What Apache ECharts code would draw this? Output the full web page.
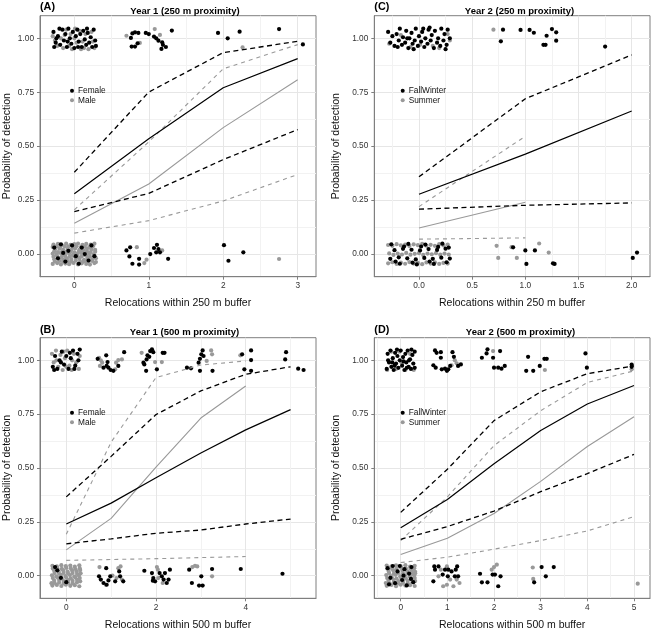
<!DOCTYPE html>
<html><head><meta charset="utf-8">
<script src="https://cdn.jsdelivr.net/npm/echarts@6/dist/echarts.min.js"></script>
<style>html,body{margin:0;padding:0;background:#fff}#c{width:651px;height:629px}</style>
</head><body><div id="c"></div>
<script>
// ---------- tick values ----------
const Y_TICKS = [0, 0.25, 0.5, 0.75, 1];
const Y_MINOR = [0.125, 0.375, 0.625, 0.875];
const A_xTicks = [0, 1, 2, 3];
const A_xMinor = [0.5, 1.5, 2.5];
const B_xTicks = [0, 2, 4];
const B_xMinor = [1, 3, 5];
const C_xTicks = [0, 0.5, 1, 1.5, 2];
const C_xMinor = [-0.25, 0.25, 0.75, 1.25, 1.75];
const D_xTicks = [0, 1, 2, 3, 4, 5];
const D_xMinor = [-0.5, 0.5, 1.5, 2.5, 3.5, 4.5];

// ---------- fitted curves (prob. of detection) ----------
// Panel A: Year 1, 250 m
const A_female_x = [0, 1, 2, 3];
const A_female_fit = [0.280, 0.535, 0.771, 0.906];
const A_female_hi = [0.379, 0.751, 0.934, 0.986];
const A_female_lo = [0.197, 0.281, 0.438, 0.577];
const A_male_x = [0, 1, 2, 3];
const A_male_fit = [0.143, 0.325, 0.586, 0.808];
const A_male_hi = [0.205, 0.520, 0.859, 0.971];
const A_male_lo = [0.097, 0.155, 0.246, 0.369];
// Panel B: Year 1, 500 m
const B_female_x = [0, 1, 2, 3, 4, 5];
const B_female_fit = [0.240, 0.337, 0.455, 0.570, 0.677, 0.771];
const B_female_hi = [0.366, 0.554, 0.748, 0.858, 0.935, 0.970];
const B_female_lo = [0.148, 0.171, 0.197, 0.212, 0.240, 0.263];
const B_male_x = [0, 1, 2, 3, 4];
const B_male_fit = [0.120, 0.266, 0.504, 0.732, 0.881];
const B_male_hi = [0.192, 0.620, 0.920, 0.978, 0.997];
const B_male_lo = [0.071, 0.075, 0.079, 0.084, 0.089];
// Panel C: Year 2, 250 m
const C_fw_x = [0, 1, 2];
const C_fw_fit = [0.277, 0.463, 0.663];
const C_fw_hi = [0.358, 0.720, 0.923];
const C_fw_lo = [0.208, 0.226, 0.237];
const C_su_x = [0, 1];
const C_su_fit = [0.121, 0.240];
const C_su_hi = [0.220, 0.546];
const C_su_lo = [0.069, 0.075];
// Panel D: Year 2, 500 m
const D_fw_x = [0, 1, 2, 3, 4, 5];
const D_fw_fit = [0.223, 0.354, 0.520, 0.674, 0.797, 0.883];
const D_fw_hi = [0.294, 0.494, 0.720, 0.854, 0.938, 0.974];
const D_fw_lo = [0.169, 0.228, 0.300, 0.390, 0.474, 0.563];
const D_su_x = [0, 1, 2, 3, 4, 5];
const D_su_fit = [0.098, 0.174, 0.289, 0.438, 0.600, 0.738];
const D_su_hi = [0.163, 0.366, 0.604, 0.766, 0.897, 0.951];
const D_su_lo = [0.061, 0.086, 0.123, 0.163, 0.208, 0.274];

// ---------- jittered observations [relocations, detected] ----------
const A_female_pts = [
[-0.28,1.03],[-0.25,0.98],[-0.22,1.01],[-0.27,0.96],[-0.19,0.97],[-0.16,1.04],[-0.14,0.99],[-0.12,1.02],[-0.10,0.96],[-0.08,1.045],[-0.06,1.0],[-0.04,0.975],[-0.02,1.03],[0.00,0.955],[0.02,1.01],[0.04,1.04],[0.06,0.985],[0.08,1.02],[0.10,0.96],[0.12,1.035],[0.14,0.995],[0.16,0.97],[0.18,1.025],[0.20,0.98],[0.22,1.005],[0.24,0.96],[0.26,1.04],[0.28,0.99],[0.29,0.965],[-0.20,1.045],[-0.09,0.985],[0.05,0.96],[0.17,1.045],[-0.24,1.0],
[0.78,1.023],[0.815,1.028],[0.86,1.025],[0.76,1.002],[0.77,0.962],[0.815,0.962],[0.85,0.977],[0.96,1.025],[1.0,1.02],[1.07,1.008],[1.1,1.0],[1.13,0.989],[1.18,0.982],[1.19,0.97],[1.23,0.96],[1.17,0.951],[1.31,1.036],
[1.93,1.025],[2.06,1.0],[2.22,1.031],[2.75,1.043],[3.07,0.972],
[-0.27,0.03],[-0.22,-0.02],[-0.18,0.045],[-0.12,-0.035],[-0.08,0.015],[-0.03,0.04],[0.02,-0.01],[0.06,-0.045],[0.1,0.03],[0.14,0.0],[0.19,-0.03],[0.23,0.04],[0.27,-0.01],[-0.15,0.005],
[0.70,0.017],[0.75,0.031],[0.74,-0.011],[0.78,-0.045],[0.87,-0.022],[0.87,-0.049],[1.02,0.0],[1.07,0.028],[1.11,0.043],[1.13,0.023],[1.10,0.008],[1.15,0.008],[1.26,-0.022],[2.01,0.041],[2.07,-0.031],[2.27,0.008]
];
const A_male_pts = [
[-0.29,1.01],[-0.26,0.99],[-0.23,0.965],[-0.18,1.0],[-0.15,0.955],[-0.11,1.04],[-0.07,0.965],[-0.05,1.02],[-0.03,0.95],[0.01,1.045],[0.03,0.98],[0.07,1.035],[0.09,0.95],[0.11,0.985],[0.13,0.955],[0.15,1.02],[0.19,0.95],[0.23,1.03],[0.25,0.985],[0.27,0.955],[0.0,1.0],[-0.13,1.015],
[0.70,1.012],[0.88,0.979],[1.08,1.043],[1.15,1.016],[2.26,0.958],
[-0.29,-0.046],[-0.23,-0.042],[-0.18,-0.048],[-0.12,-0.044],[-0.07,-0.047],[-0.01,-0.041],[0.05,-0.048],[0.10,-0.043],[0.16,-0.046],[0.21,-0.049],[0.27,-0.042],
[-0.26,-0.034],[-0.2,-0.032],[-0.15,-0.036],[-0.09,-0.033],[-0.04,-0.035],[0.02,-0.031],[0.08,-0.036],[0.13,-0.033],[0.19,-0.035],[0.24,-0.032],[0.29,-0.037],
[-0.27,-0.024],[-0.21,-0.019],[-0.15,-0.026],[-0.10,-0.021],[-0.04,-0.025],[0.02,-0.018],[0.07,-0.023],[0.13,-0.027],[0.18,-0.02],[0.24,-0.024],[0.29,-0.019],
[-0.28,-0.012],[-0.23,-0.009],[-0.17,-0.013],[-0.12,-0.01],[-0.06,-0.012],[-0.01,-0.009],[0.05,-0.013],[0.1,-0.011],[0.16,-0.008],[0.21,-0.012],[0.27,-0.01],
[-0.29,0.002],[-0.24,-0.003],[-0.18,0.004],[-0.13,-0.002],[-0.07,0.003],[-0.02,-0.004],[0.04,0.001],[0.09,0.005],[0.15,-0.003],[0.20,0.002],[0.26,-0.001],
[-0.27,0.012],[-0.22,0.009],[-0.16,0.013],[-0.11,0.01],[-0.05,0.012],[0.0,0.008],[0.06,0.013],[0.11,0.01],[0.17,0.012],[0.22,0.009],[0.28,0.011],
[-0.26,0.021],[-0.20,0.025],[-0.15,0.019],[-0.09,0.024],[-0.04,0.02],[0.01,0.026],[0.07,0.021],[0.12,0.018],[0.17,0.024],[0.23,0.022],[0.28,0.019],
[-0.29,0.033],[-0.24,0.035],[-0.19,0.032],[-0.13,0.036],[-0.08,0.034],[-0.02,0.031],[0.03,0.036],[0.09,0.033],[0.14,0.035],[0.2,0.032],[0.25,0.036],
[-0.28,0.044],[-0.22,0.047],[-0.17,0.042],[-0.11,0.048],[-0.05,0.043],[0.00,0.046],[0.05,0.049],[0.11,0.043],[0.16,0.047],[0.22,0.044],[0.27,0.048],
[0.84,0.032],[0.94,-0.042],[0.97,-0.026],[1.18,0.017],[2.75,-0.023]
];
const B_female_pts = [
[-0.3,0.97],[-0.25,1.02],[-0.2,0.96],[-0.15,1.0],[-0.1,1.04],[-0.05,0.98],[0.0,1.02],[0.05,0.96],[0.1,1.01],[0.15,1.045],[0.2,0.975],[0.25,1.03],[0.3,1.05],[-0.27,0.955],[0.08,1.035],[0.18,0.96],[0.27,1.0],[-0.12,0.99],
[0.70,1.007],[0.89,1.023],[0.92,0.992],[0.90,0.974],[0.94,0.966],[0.99,0.955],[1.05,0.951],[1.16,0.974],[1.29,1.038],[0.83,0.966],
[1.72,0.989],[1.74,0.981],[1.79,1.004],[1.81,1.023],[1.85,1.016],[1.87,1.043],[1.91,1.051],[1.94,1.038],[2.02,0.958],[2.15,1.035],[2.19,1.035],[1.78,0.951],
[2.69,0.966],[2.78,0.963],[2.95,0.989],[2.98,1.007],[3.01,1.028],[3.04,1.046],[3.06,1.02],[2.98,0.951],[3.26,0.951],
[3.92,1.028],[3.97,0.958],[4.12,1.046],[4.12,1.001],[4.12,0.951],
[4.90,1.038],[4.88,1.004],[5.17,0.961],[5.29,0.955],
[-0.2,0.025],[-0.12,-0.01],[0.0,-0.03],[-0.25,0.04],
[0.89,0.035],[0.73,-0.003],[0.77,-0.018],[0.83,-0.034],[0.94,-0.022],[0.98,-0.003],[1.09,-0.026],[1.18,0.020],[1.20,-0.003],[1.27,-0.026],[0.90,-0.042],
[1.74,0.023],[1.91,0.012],[1.94,-0.011],[1.93,-0.023],[2.08,0.012],[2.13,-0.003],[2.17,-0.018],[2.20,0.012],[2.24,-0.034],[2.28,-0.018],[2.31,0.028],[1.98,-0.026],
[2.74,0.028],[2.80,-0.034],[2.96,-0.046],[3.04,-0.046],[3.01,-0.003],[3.25,0.031],[3.89,0.031],[4.82,0.009]
];
const B_male_pts = [
[-0.32,1.03],[-0.28,0.99],[-0.23,1.045],[-0.18,0.97],[-0.13,1.025],[-0.08,0.955],[-0.03,1.01],[0.02,1.045],[0.07,0.975],[0.12,0.955],[0.17,1.03],[0.22,0.99],[0.28,0.96],[-0.22,1.0],[0.0,0.97],[0.13,1.0],[-0.06,1.04],[0.3,1.02],
[0.73,1.012],[0.77,1.0],[0.80,0.989],[1.09,0.958],[1.11,0.989],[1.16,1.001],[1.24,1.004],[0.75,0.974],
[1.68,1.035],[1.98,0.992],[2.13,0.992],[3.13,0.997],[3.23,1.046],[3.25,1.028],[3.88,1.023],
[-0.31,-0.046],[-0.21,-0.043],[-0.11,-0.048],[-0.01,-0.042],[0.09,-0.047],[0.19,-0.044],[0.29,-0.049],
[-0.26,-0.034],[-0.16,-0.032],[-0.06,-0.036],[0.04,-0.033],[0.14,-0.035],[0.24,-0.031],[-0.33,-0.035],
[-0.27,-0.023],[-0.16,-0.02],[-0.06,-0.025],[0.04,-0.021],[0.14,-0.024],[0.24,-0.019],[0.31,-0.026],
[-0.3,-0.011],[-0.2,-0.009],[-0.1,-0.013],[0.0,-0.01],[0.1,-0.012],[0.2,-0.008],[0.3,-0.011],
[-0.32,0.002],[-0.22,-0.003],[-0.12,0.004],[-0.02,-0.002],[0.08,0.003],[0.18,-0.004],[0.28,0.001],
[-0.26,0.012],[-0.16,0.009],[-0.06,0.013],[0.04,0.01],[0.14,0.012],[0.24,0.008],[0.32,0.011],
[-0.27,0.023],[-0.17,0.02],[-0.07,0.025],[0.03,0.019],[0.13,0.024],[0.23,0.021],[0.31,0.026],
[-0.3,0.033],[-0.2,0.035],[-0.1,0.032],[0.0,0.036],[0.1,0.034],[0.2,0.031],[0.3,0.035],
[-0.31,0.046],[-0.21,0.043],[-0.11,0.049],[-0.01,0.044],[0.09,0.047],[0.19,0.042],[0.29,0.048],
[0.74,0.040],[0.88,-0.042],[1.03,0.0],[1.12,-0.011],[1.16,0.035],[1.24,-0.018],[1.21,0.043],[2.02,0.040],[2.04,0.028],[2.05,-0.011],[2.15,-0.034],[2.81,0.040],[2.87,0.046],[2.92,0.043],[3.25,-0.003]
];
const C_fw_pts = [
[-0.29,1.03],[-0.27,0.98],[-0.25,1.01],[-0.23,0.965],[-0.21,1.02],[-0.19,0.99],[-0.18,1.045],[-0.16,0.97],[-0.15,1.005],[-0.13,0.98],[-0.12,1.035],[-0.10,0.955],[-0.09,1.0],[-0.07,1.025],[-0.06,0.975],[-0.04,0.99],[-0.03,1.045],[-0.01,0.965],[0.00,1.01],[0.02,0.985],[0.03,1.03],[0.05,0.96],[0.06,1.0],[0.08,0.975],[0.09,1.04],[0.11,0.99],[0.12,1.015],[0.14,0.955],[0.15,1.035],[0.17,0.98],[0.18,1.0],[0.2,0.965],[0.21,1.045],[0.23,0.99],[0.24,1.02],[0.26,0.97],[0.27,1.04],[0.29,1.0],[-0.2,0.96],[-0.05,0.95],[0.1,1.05],[0.25,0.95],[-0.11,1.0],[0.04,1.045],
[0.77,0.986],[0.79,1.04],[0.955,1.039],[1.04,1.039],[1.08,1.026],[1.25,1.043],[1.29,1.028],[1.2,1.012],[1.29,0.989],[1.17,0.97],[1.19,0.97],[1.75,0.962],
[-0.27,-0.022],[-0.23,0.018],[-0.19,-0.015],[-0.15,0.024],[-0.11,-0.02],[-0.07,0.02],[-0.03,-0.025],[0.01,0.017],[0.05,-0.018],[0.09,0.023],[0.13,-0.022],[0.17,0.019],[0.21,-0.017],[0.25,0.025],[0.29,-0.021],
[-0.26,0.045],[-0.18,-0.045],[-0.1,0.047],[-0.02,-0.048],[0.06,0.044],[0.14,-0.046],[0.22,0.048],[0.28,0.03],[-0.22,-0.035],[-0.14,0.035],[-0.06,-0.04],[0.02,0.035],[0.1,-0.035],[0.18,0.033],[0.26,-0.038],
[0.885,0.031],[1.0,0.017],[1.01,-0.046],[1.09,0.017],[1.26,-0.043],[1.275,-0.046],[2.01,-0.018],[2.05,0.007]
];
const C_su_pts = [
[-0.28,0.975],[-0.17,1.015],[-0.08,0.96],[0.01,0.97],[0.13,0.965],[0.19,0.955],[0.27,1.02],[0.29,0.99],[0.70,1.04],
[-0.29,-0.043],[-0.25,-0.038],[-0.21,-0.046],[-0.17,-0.04],[-0.13,-0.045],[-0.09,-0.037],[-0.05,-0.044],[-0.01,-0.041],[0.03,-0.047],[0.07,-0.039],[0.11,-0.044],[0.15,-0.038],[0.19,-0.046],[0.23,-0.041],[0.27,-0.044],
[-0.28,0.003],[-0.24,-0.004],[-0.2,0.002],[-0.16,-0.002],[-0.12,0.005],[-0.08,-0.003],[-0.04,0.001],[0.0,0.004],[0.04,-0.004],[0.08,0.002],[0.12,-0.001],[0.16,0.004],[0.2,-0.003],[0.24,0.002],[0.28,-0.002],
[-0.29,0.042],[-0.25,0.038],[-0.21,0.046],[-0.17,0.04],[-0.13,0.044],[-0.09,0.037],[-0.05,0.045],[-0.01,0.041],[0.03,0.047],[0.07,0.039],[0.11,0.043],[0.15,0.038],[0.19,0.046],[0.23,0.04],[0.27,0.044],
[0.73,0.038],[0.745,-0.018],[0.87,0.032],[0.92,-0.018],[1.13,0.049],[1.22,0.007]
];
const D_fw_pts = [
[-0.3,0.96],[-0.28,1.03],[-0.25,0.99],[-0.22,1.045],[-0.2,0.97],[-0.17,1.01],[-0.15,0.955],[-0.12,1.035],[-0.1,0.985],[-0.07,1.02],[-0.05,0.965],[-0.02,1.0],[0.0,1.045],[0.03,0.975],[0.05,1.015],[0.08,0.955],[0.1,1.03],[0.12,0.99],[0.15,1.045],[0.17,0.97],[0.2,1.005],[0.22,0.96],[0.25,1.025],[0.27,0.985],[0.3,1.04],[0.3,0.965],[-0.27,1.0],[-0.13,0.975],[0.06,0.995],[0.18,1.0],[-0.08,1.05],[0.23,1.05],[-0.18,0.99],[0.13,0.965],
[0.735,1.046],[0.77,1.035],[0.70,0.977],[0.75,0.966],[0.86,1.038],[0.86,1.012],[0.88,0.958],[0.95,0.961],[1.02,0.958],[1.06,0.974],[1.11,1.038],[1.14,1.016],[1.23,0.974],[1.29,0.981],[0.99,0.951],
[1.74,1.012],[1.84,1.032],[1.86,1.051],[1.98,1.012],[2.13,1.043],[2.0,0.966],[2.09,0.966],[2.16,0.961],[2.23,0.974],
[2.69,0.951],[2.73,1.016],[2.84,0.951],[2.98,0.974],[3.08,1.007],[3.13,1.007],
[3.96,1.032],[3.99,0.966],[4.95,0.97],[4.95,0.98],
[-0.28,0.035],[-0.22,-0.01],[-0.17,0.045],[-0.12,-0.035],[-0.07,0.02],[-0.02,0.045],[0.03,-0.02],[0.08,0.03],[0.13,-0.045],[0.18,0.01],[0.23,0.04],[0.27,-0.03],[-0.25,-0.04],[0.06,0.0],[0.22,-0.015],
[0.70,-0.026],[0.735,0.028],[0.72,0.043],[0.81,0.043],[0.90,0.005],[0.95,0.028],[1.01,-0.003],[1.02,0.028],[1.09,0.020],[1.16,-0.003],[1.18,0.028],[1.21,0.043],[1.23,-0.003],
[1.70,0.009],[1.74,-0.031],[1.86,-0.031],[1.97,0.005],[2.02,0.005],[2.14,-0.003],[2.09,-0.049],
[2.86,-0.031],[3.02,0.040],[3.11,-0.003],[3.28,0.040]
];
const D_su_pts = [
[-0.29,0.955],[-0.2,1.04],[-0.1,0.96],[0.02,0.99],[0.1,0.955],[0.2,1.03],[0.28,0.955],[-0.03,1.04],
[1.09,0.977],[1.16,1.0],[1.20,0.986],[1.98,1.043],[3.09,0.955],[4.95,0.958],
[-0.3,-0.047],[-0.2,-0.043],[-0.1,-0.049],[0.0,-0.042],[0.1,-0.046],[0.2,-0.044],[0.3,-0.048],
[-0.25,-0.034],[-0.15,-0.032],[-0.05,-0.036],[0.05,-0.033],[0.15,-0.035],[0.25,-0.031],[-0.32,-0.034],
[-0.26,-0.022],[-0.15,-0.019],[-0.05,-0.025],[0.05,-0.021],[0.15,-0.024],[0.25,-0.02],[0.31,-0.025],
[-0.29,-0.011],[-0.19,-0.009],[-0.09,-0.013],[0.01,-0.01],[0.11,-0.012],[0.21,-0.008],[0.3,-0.011],
[-0.31,0.003],[-0.21,-0.002],[-0.11,0.004],[-0.01,-0.003],[0.09,0.002],[0.19,-0.004],[0.29,0.001],
[-0.25,0.012],[-0.15,0.009],[-0.05,0.013],[0.05,0.01],[0.15,0.012],[0.25,0.008],[0.31,0.011],
[-0.26,0.022],[-0.16,0.025],[-0.06,0.019],[0.04,0.024],[0.14,0.02],[0.24,0.023],[0.31,0.018],
[-0.29,0.033],[-0.19,0.035],[-0.09,0.032],[0.01,0.036],[0.11,0.034],[0.21,0.031],[0.29,0.035],
[-0.3,0.047],[-0.2,0.043],[-0.1,0.048],[0.0,0.044],[0.1,0.049],[0.2,0.042],[0.3,0.046],
[0.86,0.028],[0.99,0.043],[1.06,-0.018],[1.13,-0.049],[1.20,-0.018],[1.26,-0.034],[0.91,-0.049],[0.99,-0.042],[0.81,-0.003],[1.95,0.028],[2.0,0.040],[2.06,0.051],[2.83,0.038],[2.84,-0.015],[5.08,-0.037]
];

// ---------- layout ----------
const FONT = '"Liberation Sans", Arial, Helvetica, sans-serif';
const BLACK = '#000000', GRAY = '#999999', BORDER = '#7f7f7f';

const panels = [
  { grid:{left:40, top:15.7, width:276, height:261}, xMin:-0.461, xMax:3.246, xTicks:A_xTicks, xMinor:A_xMinor, xDec:0,
    xName:'Relocations within 250 m buffer', yGap:27, tag:'(A)', tagX:40, tagY:7.5, title:'Year 1 (250 m proximity)', titleX:185, titleY:11.5,
    groups:[
      {name:'Male', color:GRAY, pts:A_male_pts, x:A_male_x, fit:A_male_fit, hi:A_male_hi, lo:A_male_lo},
      {name:'Female', color:BLACK, pts:A_female_pts, x:A_female_x, fit:A_female_fit, hi:A_female_hi, lo:A_female_lo}],
    legend:{left:68, top:85, names:['Female','Male']} },
  { grid:{left:374.3, top:15.7, width:275.7, height:261}, xMin:-0.42, xMax:2.172, xTicks:C_xTicks, xMinor:C_xMinor, xDec:1,
    xName:'Relocations within 250 m buffer', yGap:33, tag:'(C)', tagX:374.3, tagY:7.5, title:'Year 2 (250 m proximity)', titleX:519.5, titleY:11.5,
    groups:[
      {name:'Summer', color:GRAY, pts:C_su_pts, x:C_su_x, fit:C_su_fit, hi:C_su_hi, lo:C_su_lo},
      {name:'FallWinter', color:BLACK, pts:C_fw_pts, x:C_fw_x, fit:C_fw_fit, hi:C_fw_hi, lo:C_fw_lo}],
    legend:{left:398.7, top:85, names:['FallWinter','Summer']} },
  { grid:{left:40, top:337.7, width:276, height:260.6}, xMin:-0.586, xMax:5.567, xTicks:B_xTicks, xMinor:B_xMinor, xDec:0,
    xName:'Relocations within 500 m buffer', yGap:27, tag:'(B)', tagX:40, tagY:330, title:'Year 1 (500 m proximity)', titleX:184.5, titleY:332.5,
    groups:[
      {name:'Male', color:GRAY, pts:B_male_pts, x:B_male_x, fit:B_male_fit, hi:B_male_hi, lo:B_male_lo},
      {name:'Female', color:BLACK, pts:B_female_pts, x:B_female_x, fit:B_female_fit, hi:B_female_hi, lo:B_female_lo}],
    legend:{left:68, top:407, names:['Female','Male']} },
  { grid:{left:374.3, top:337.7, width:275.7, height:260.6}, xMin:-0.566, xMax:5.343, xTicks:D_xTicks, xMinor:D_xMinor, xDec:0,
    xName:'Relocations within 500 m buffer', yGap:33, tag:'(D)', tagX:374.3, tagY:330, title:'Year 2 (500 m proximity)', titleX:520.5, titleY:332.5,
    groups:[
      {name:'Summer', color:GRAY, pts:D_su_pts, x:D_su_x, fit:D_su_fit, hi:D_su_hi, lo:D_su_lo},
      {name:'FallWinter', color:BLACK, pts:D_fw_pts, x:D_fw_x, fit:D_fw_fit, hi:D_fw_hi, lo:D_fw_lo}],
    legend:{left:398.7, top:407, names:['FallWinter','Summer']} }
];

const grids = [], xAxes = [], yAxes = [], series = [], legends = [], graphics = [];
panels.forEach((p, i) => {
  grids.push(Object.assign({show:true, borderColor:BORDER, borderWidth:1, backgroundColor:'#fff', containLabel:false, outerBoundsMode:'none'}, p.grid));
  xAxes.push({
    gridIndex:i, type:'value', min:p.xMin, max:p.xMax, position:'bottom',
    name:p.xName, nameLocation:'middle', nameGap:21,
    nameTextStyle:{fontSize:10.5, color:'#111', fontFamily:FONT},
    axisLine:{show:true, onZero:false, lineStyle:{color:BORDER, width:1}},
    axisTick:{show:true, length:3, lineStyle:{color:BORDER}, customValues:p.xTicks},
    axisLabel:{customValues:p.xTicks, formatter:v => Number(v).toFixed(p.xDec), fontSize:8.3, color:'#333', margin:5, fontFamily:FONT},
    splitLine:{show:true, lineStyle:{color:'#e6e6e6', width:1}}
  });
  xAxes.push({
    gridIndex:i, type:'value', min:p.xMin, max:p.xMax, position:'top',
    axisLine:{show:false}, axisTick:{show:false, customValues:p.xMinor}, axisLabel:{show:false},
    splitLine:{show:true, lineStyle:{color:'#f2f2f2', width:1}}
  });
  yAxes.push({
    gridIndex:i, type:'value', min:-0.105, max:1.105, position:'left',
    name:'Probability of detection', nameLocation:'middle', nameGap:p.yGap,
    nameTextStyle:{fontSize:10.5, color:'#111', fontFamily:FONT},
    axisLine:{show:true, onZero:false, lineStyle:{color:BORDER, width:1}},
    axisTick:{show:true, length:3, lineStyle:{color:BORDER}, customValues:Y_TICKS},
    axisLabel:{customValues:Y_TICKS, formatter:v => Number(v).toFixed(2), fontSize:8.3, color:'#333', margin:6, fontFamily:FONT},
    splitLine:{show:true, lineStyle:{color:'#e6e6e6', width:1}}
  });
  yAxes.push({
    gridIndex:i, type:'value', min:-0.105, max:1.105, position:'right',
    axisLine:{show:false}, axisTick:{show:false, customValues:Y_MINOR}, axisLabel:{show:false},
    splitLine:{show:true, lineStyle:{color:'#f2f2f2', width:1}}
  });
  const xi = 2 * i, yi = 2 * i;
  p.groups.forEach(g => {
    series.push({type:'scatter', name:g.name, xAxisIndex:xi, yAxisIndex:yi, data:g.pts, symbolSize:4.2,
      itemStyle:{color:g.color, opacity:1, borderWidth:0}, emphasis:{disabled:true}, silent:true, z:2, animation:false});
  });
  p.groups.forEach(g => {
    const isBlack = g.color === BLACK;
    const mk = (ys, dashed, tag) => ({
      type:'line', name:g.name + ' ' + tag, xAxisIndex:xi, yAxisIndex:yi,
      data:g.x.map((v, k) => [v, ys[k]]), symbol:'none', silent:true, z:3, animation:false,
      lineStyle:{color:g.color, opacity:1, width:isBlack ? (dashed ? 1.3 : 1.2) : 1.1, type:dashed ? (isBlack ? [5, 3.5] : [4, 4]) : 'solid'}
    });
    series.push(mk(g.fit, false, 'fit'), mk(g.hi, true, 'upper'), mk(g.lo, true, 'lower'));
  });
  legends.push({
    data:p.legend.names, left:p.legend.left, top:p.legend.top, orient:'vertical', icon:'circle',
    itemWidth:4, itemHeight:4, itemGap:0, padding:[1, 2, 1, 2], selectedMode:false,
    itemStyle:{opacity:1},
    textStyle:{fontSize:8.3, lineHeight:9.5, color:'#111', fontFamily:FONT, padding:[0, 0, 0, -1]}
  });
  graphics.push({type:'text', x:p.tagX, y:p.tagY, silent:true,
    style:{text:p.tag, textAlign:'left', textVerticalAlign:'middle', font:'bold 10.8px ' + FONT, fill:'#000'}});
  graphics.push({type:'text', x:p.titleX, y:p.titleY, silent:true,
    style:{text:p.title, textAlign:'center', textVerticalAlign:'middle', font:'bold 9.5px ' + FONT, fill:'#000'}});
});

const chart = echarts.init(document.getElementById('c'), null, {renderer:'canvas'});
chart.setOption({
  animation:false,
  backgroundColor:'#ffffff',
  textStyle:{fontFamily:FONT},
  grid:grids, xAxis:xAxes, yAxis:yAxes, series:series, legend:legends, graphic:graphics
});
</script></body></html>
